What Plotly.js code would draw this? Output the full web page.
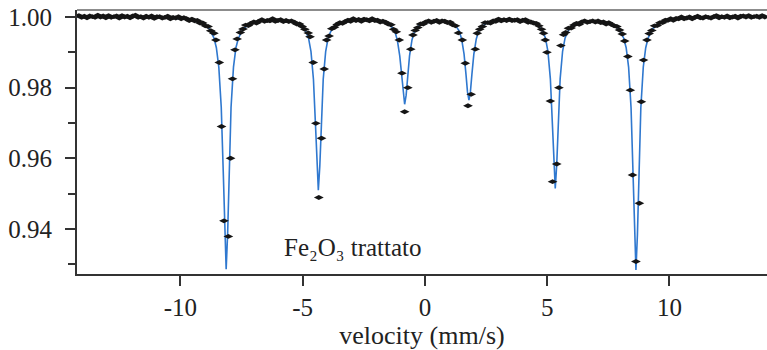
<!DOCTYPE html>
<html>
<head>
<meta charset="utf-8">
<script src="https://cdn.plot.ly/plotly-3.0.1.min.js"></script>
<style>
html,body{margin:0;padding:0;background:#fff;}
#chart{width:767px;height:350px;}
</style>
</head>
<body>
<div id="chart"></div>
<script>
// Measured spectrum (velocity in mm/s, relative transmission)
const velocity = [
-14.15,-14.04,-13.93,-13.82,-13.71,-13.60,-13.49,-13.38,-13.27,-13.16,
-13.05,-12.94,-12.83,-12.72,-12.61,-12.50,-12.39,-12.28,-12.17,-12.06,
-11.95,-11.84,-11.73,-11.62,-11.51,-11.40,-11.29,-11.18,-11.07,-10.96,
-10.85,-10.74,-10.63,-10.52,-10.41,-10.30,-10.19,-10.08,-9.97,-9.86,
-9.75,-9.64,-9.53,-9.42,-9.31,-9.20,-9.09,-8.98,-8.87,-8.76,
-8.63,-8.55,-8.41,-8.32,-8.22,-8.04,-7.95,-7.87,-7.77,-7.68,
-7.55,-7.44,-7.33,-7.22,-7.11,-7.00,-6.89,-6.78,-6.67,-6.56,
-6.45,-6.34,-6.23,-6.12,-6.01,-5.90,-5.79,-5.68,-5.57,-5.46,
-5.35,-5.24,-5.13,-5.02,-4.91,
-4.77,-4.70,-4.57,-4.46,-4.34,-4.23,-4.12,-4.02,
-3.92,-3.81,-3.70,-3.59,-3.48,-3.37,-3.26,-3.15,-3.04,-2.93,
-2.82,-2.71,-2.60,-2.49,-2.38,-2.27,-2.16,-2.05,-1.94,-1.83,
-1.72,-1.61,-1.50,-1.39,-1.28,
-1.17,-1.05,-0.94,-0.83,-0.70,-0.58,-0.49,
-0.40,-0.29,-0.18,-0.07,0.04,0.15,0.26,0.37,0.48,0.59,
0.70,0.81,0.92,1.03,1.14,1.25,
1.37,1.53,1.65,1.76,1.89,2.06,2.14,
2.24,2.35,2.46,2.57,2.68,2.79,2.90,3.01,3.12,3.23,
3.34,3.45,3.56,3.67,3.78,3.89,4.00,4.11,4.22,4.33,
4.44,4.55,4.66,4.77,
4.85,4.92,4.99,5.13,5.22,5.39,5.48,5.56,5.67,
5.76,5.87,5.98,6.09,6.20,6.31,6.42,6.53,6.64,6.75,
6.86,6.97,7.08,7.19,7.30,7.41,7.52,7.63,7.74,7.85,
7.96,8.07,
8.17,8.30,8.40,8.49,8.63,8.77,8.85,8.94,9.08,
9.17,9.28,9.39,9.50,9.61,9.72,9.83,9.94,10.05,10.16,
10.27,10.38,10.49,10.60,10.71,10.82,10.93,11.04,11.15,11.26,
11.37,11.48,11.59,11.70,11.81,11.92,12.03,12.14,12.25,12.36,
12.47,12.58,12.69,12.80,12.91,13.02,13.13,13.24,13.35,13.46,
13.57,13.68,13.79,13.90
];
const transmission = [
1.0004,0.9999,1.0002,0.9998,1.0003,1.0001,0.9999,1.0005,1.0000,1.0003,
0.9998,1.0004,0.9999,1.0001,1.0003,0.9997,1.0004,1.0000,1.0002,0.9998,
1.0003,1.0005,0.9999,1.0001,0.9997,1.0002,0.9999,1.0003,0.9996,1.0001,
1.0001,0.9997,0.9999,1.0002,0.9995,0.9999,0.9997,1.0001,0.9995,0.9998,
0.9995,0.9990,0.9994,0.9989,0.9990,0.9983,0.9983,0.9975,0.9973,0.9961,
0.9954,0.9935,0.9871,0.9690,0.9423,0.9379,0.9600,0.9825,0.9907,0.9938,
0.9956,0.9966,0.9977,0.9976,0.9982,0.9986,0.9983,0.9988,0.9992,0.9988,
0.9990,0.9989,0.9995,0.9988,0.9990,0.9992,0.9987,0.9990,0.9987,0.9989,
0.9985,0.9980,0.9980,0.9973,0.9965,
0.9955,0.9944,0.9871,0.9699,0.9489,0.9657,0.9853,0.9935,
0.9946,0.9967,0.9971,0.9979,0.9984,0.9982,0.9987,0.9991,0.9988,0.9995,
0.9990,0.9993,0.9988,0.9994,0.9992,0.9989,0.9995,0.9990,0.9991,0.9986,
0.9988,0.9985,0.9980,0.9978,0.9965,
0.9958,0.9935,0.9841,0.9732,0.9800,0.9909,0.9949,
0.9962,0.9970,0.9980,0.9980,0.9986,0.9989,0.9985,0.9988,0.9990,0.9985,
0.9989,0.9988,0.9984,0.9985,0.9978,0.9975,
0.9955,0.9935,0.9869,0.9749,0.9781,0.9909,0.9954,
0.9965,0.9973,0.9984,0.9984,0.9983,0.9989,0.9988,0.9994,0.9989,0.9992,
0.9990,0.9994,0.9990,0.9991,0.9992,0.9987,0.9991,0.9992,0.9985,0.9986,
0.9983,0.9982,0.9975,0.9965,
0.9954,0.9935,0.9900,0.9762,0.9534,0.9584,0.9800,0.9919,0.9950,
0.9956,0.9968,0.9969,0.9977,0.9982,0.9979,0.9986,0.9989,0.9985,0.9987,
0.9989,0.9986,0.9989,0.9984,0.9986,0.9980,0.9984,0.9979,0.9975,0.9973,
0.9963,0.9952,
0.9932,0.9888,0.9793,0.9553,0.9308,0.9473,0.9760,0.9878,0.9935,
0.9953,0.9962,0.9975,0.9976,0.9984,0.9984,0.9991,0.9991,0.9995,0.9991,
0.9996,0.9995,1.0000,0.9995,0.9997,1.0000,0.9995,0.9999,1.0002,0.9998,
0.9997,1.0001,0.9999,0.9997,1.0001,1.0004,0.9998,1.0001,0.9999,1.0003,
0.9998,1.0000,1.0002,0.9997,1.0002,1.0003,1.0000,1.0004,0.9999,1.0001,
1.0002,0.9999,1.0004,1.0000
];
// Fitted sextet curve
const fitVelocity = [
-14.23,-12.0,-10.63,
-9.63,-9.13,-8.83,-8.63,-8.53,-8.43,-8.33,-8.25,-8.19,-8.13,-8.07,-8.01,-7.93,-7.83,-7.73,-7.63,-7.43,-7.13,-6.63,
-6.25,
-5.86,-5.36,-5.06,-4.86,-4.76,-4.66,-4.56,-4.48,-4.42,-4.36,-4.30,-4.24,-4.16,-4.06,-3.96,-3.86,-3.66,-3.36,-2.86,
-2.60,
-2.33,-1.83,-1.53,-1.33,-1.23,-1.13,-1.03,-0.95,-0.89,-0.83,-0.77,-0.71,-0.63,-0.53,-0.43,-0.33,-0.13,0.17,
0.49,
0.80,1.10,1.30,1.40,1.50,1.60,1.68,1.74,1.80,1.86,1.92,2.00,2.10,2.20,2.30,2.50,2.80,3.30,
3.57,
3.83,4.33,4.63,4.83,4.93,5.03,5.13,5.21,5.27,5.33,5.39,5.45,5.53,5.63,5.73,5.83,6.03,6.33,6.83,
6.98,
7.13,7.63,7.93,8.13,8.23,8.33,8.43,8.51,8.57,8.63,8.69,8.75,8.83,8.93,9.03,9.13,9.33,9.63,10.13,
11.13,12.5,14.0
];
const fitTransmission = [
1.0001,1.0001,0.9998,
0.9993,0.9983,0.9968,0.9941,0.9913,0.9858,0.9744,0.9565,0.9385,0.9286,0.9385,0.9565,0.9744,0.9858,0.9913,0.9940,0.9967,0.9981,0.9990,
0.9991,
0.9991,0.9985,0.9975,0.9958,0.9940,0.9902,0.9824,0.9701,0.9578,0.9510,0.9578,0.9701,0.9824,0.9902,0.9940,0.9958,0.9975,0.9985,0.9991,
0.9992,
0.9992,0.9988,0.9982,0.9970,0.9959,0.9935,0.9890,0.9829,0.9778,0.9753,0.9778,0.9829,0.9890,0.9935,0.9959,0.9970,0.9982,0.9985,
0.9987,
0.9986,0.9982,0.9971,0.9961,0.9938,0.9895,0.9837,0.9788,0.9765,0.9788,0.9837,0.9895,0.9938,0.9961,0.9971,0.9982,0.9989,0.9992,
0.9992,
0.9991,0.9985,0.9976,0.9958,0.9940,0.9903,0.9825,0.9704,0.9582,0.9515,0.9582,0.9704,0.9825,0.9903,0.9940,0.9958,0.9976,0.9985,0.9988,
0.9987,
0.9987,0.9980,0.9967,0.9940,0.9913,0.9858,0.9743,0.9564,0.9383,0.9284,0.9383,0.9564,0.9743,0.9858,0.9913,0.9941,0.9968,0.9983,0.9993,
0.9998,1.0000,1.0001
];
const xTickVals = [-10, -5, 0, 5, 10];
const xTickText = ['-10', '-5', '0', '5', '10'];
const yTickVals = [0.94, 0.96, 0.98, 1.00];
const yTickText = ['0.94', '0.96', '0.98', '1.00'];
const yMinorTicks = [0.93, 0.95, 0.97, 0.99];
const sampleLabel = 'Fe\u2082O\u2083 trattato';
const xTitle = 'velocity (mm/s)';

const serif = 'serif';
const traces = [
  {x: fitVelocity, y: fitTransmission, type: 'scatter', mode: 'lines',
   line: {color: '#2f78cf', width: 1.6}, hoverinfo: 'skip'},
  {x: velocity, y: transmission, type: 'scatter', mode: 'markers',
   marker: {symbol: 'diamond-wide', size: 7, color: '#151515'}}
];
const layout = {
  width: 767, height: 350,
  margin: {l: 77, r: 0, t: 10, b: 76},
  paper_bgcolor: '#fff', plot_bgcolor: '#fff',
  showlegend: false,
  font: {family: serif},
  xaxis: {
    range: [-14.23, 13.99], showgrid: false, zeroline: false,
    tickmode: 'array', tickvals: xTickVals, ticktext: xTickText,
    ticks: 'outside', ticklen: 10, tickwidth: 2, tickcolor: '#333',
    showline: true, linecolor: '#333', linewidth: 2,
    tickfont: {family: serif, size: 25, color: '#222'},
    title: {text: xTitle, font: {family: serif, size: 26, color: '#222'}, standoff: 6},
    automargin: false
  },
  yaxis: {
    range: [0.92726, 1.00198], showgrid: false, zeroline: false,
    tickmode: 'array', tickvals: yTickVals, ticktext: yTickText,
    ticks: 'outside', ticklen: 10, tickwidth: 2, tickcolor: '#333',
    ticklabelstandoff: 8,
    showline: true, linecolor: '#333', linewidth: 2,
    tickfont: {family: serif, size: 25, color: '#222'},
    minor: {tickmode: 'array', tickvals: yMinorTicks, ticks: 'outside', ticklen: 7, tickwidth: 2, tickcolor: '#333'},
    automargin: false
  },
  shapes: [
    {type: 'line', xref: 'paper', yref: 'paper', x0: 0, x1: 1, y0: 1, y1: 1,
     line: {color: '#666', width: 1.5}}
  ],
  annotations: [
    {x: -5.85, y: 0.9348, xref: 'x', yref: 'y', text: sampleLabel, showarrow: false,
     xanchor: 'left', yanchor: 'middle', font: {family: serif, size: 25, color: '#222'}}
  ]
};
Plotly.newPlot('chart', traces, layout, {displayModeBar: false, staticPlot: true});
</script>
</body>
</html>
